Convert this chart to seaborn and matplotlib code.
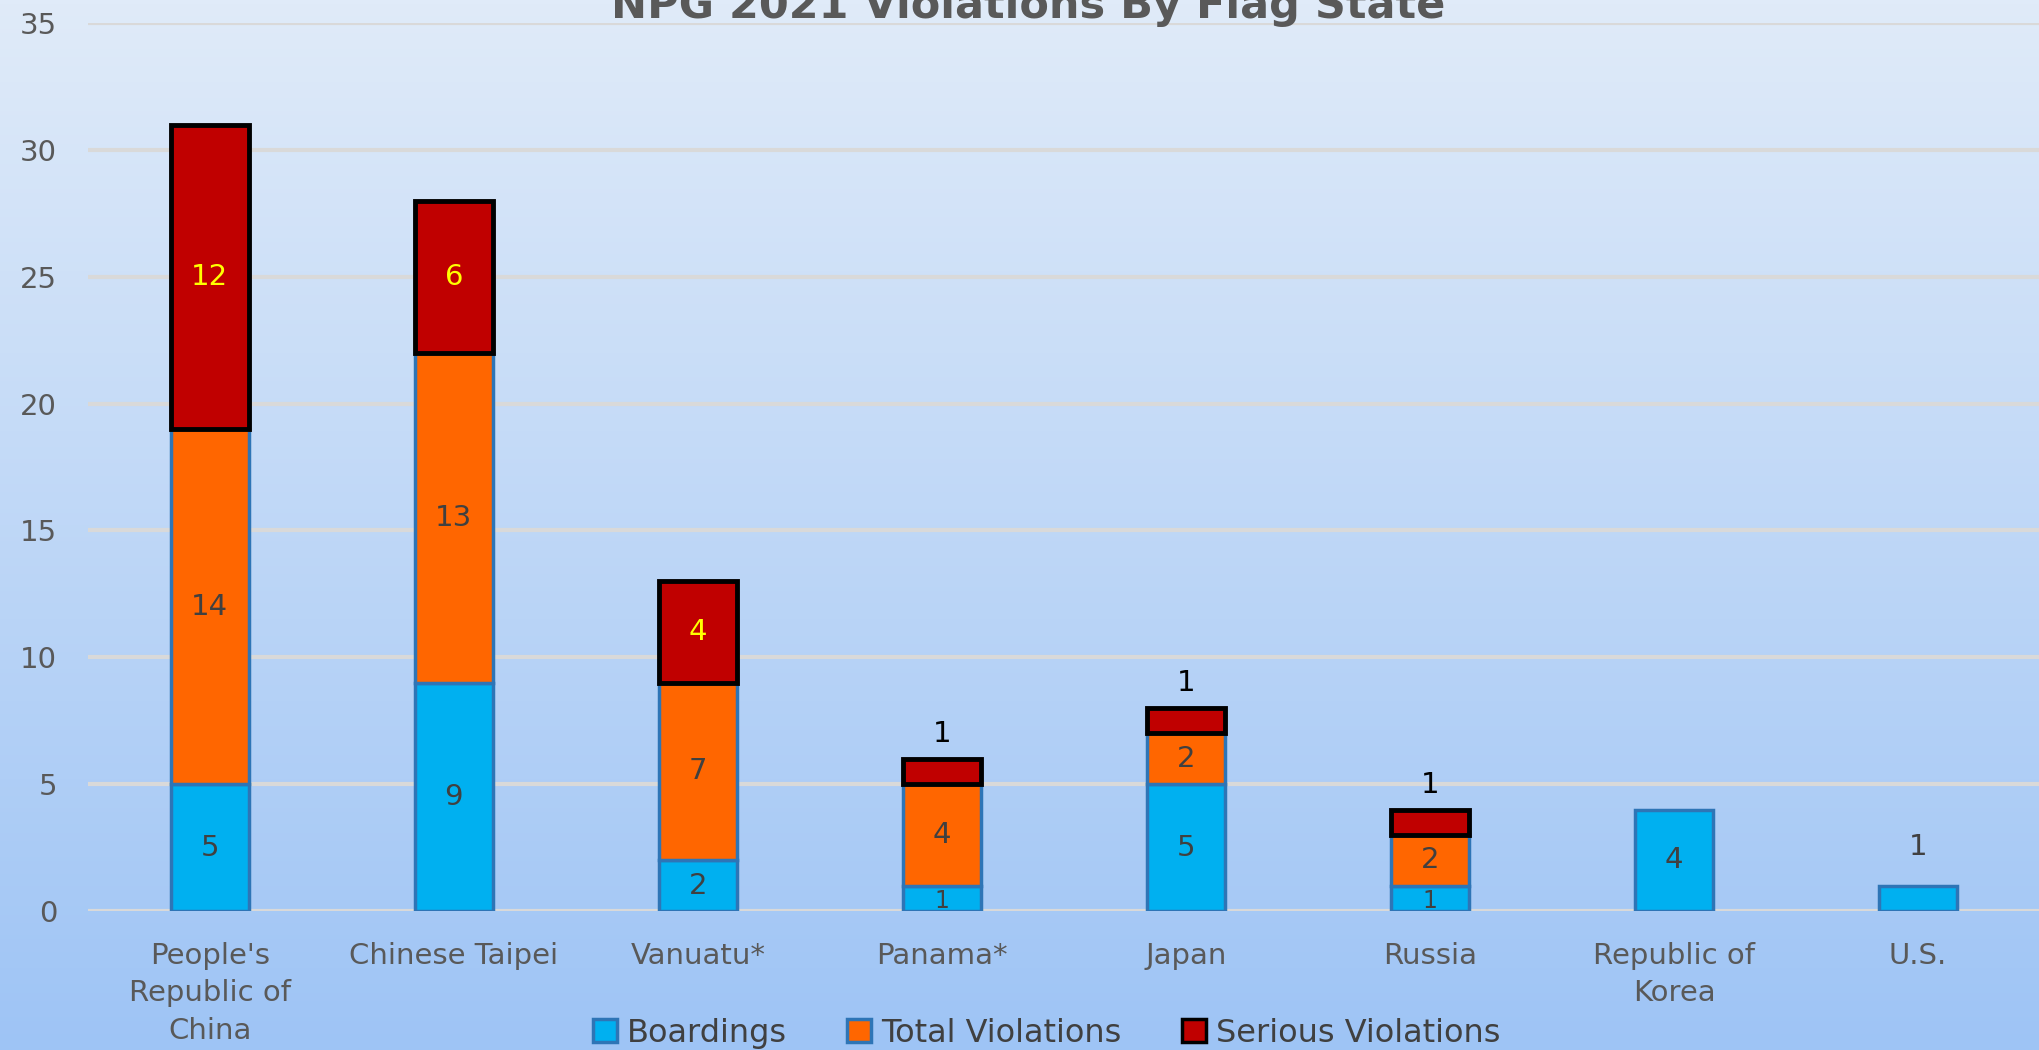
import numpy as np
import matplotlib
matplotlib.use("Agg")
import matplotlib.pyplot as plt
import seaborn as sns
from matplotlib.patches import Patch
from matplotlib.colors import LinearSegmentedColormap

# chart data
states = ["People's\nRepublic of\nChina", "Chinese Taipei", "Vanuatu*", "Panama*",
          "Japan", "Russia", "Republic of\nKorea", "U.S."]
boardings = [5, 9, 2, 1, 5, 1, 4, 1]
total_violations = [14, 13, 7, 4, 2, 2, 0, 0]
serious_violations = [12, 6, 4, 1, 1, 1, 0, 0]
yticks = [0, 5, 10, 15, 20, 25, 30, 35]

c_board = "#00b0f0"
c_total = "#ff6600"
c_serious = "#c00000"
c_edge = "#2e75b6"

sns.set_theme(style="white")
plt.rcParams['font.family'] = ['DejaVu Sans']

fig = plt.figure(figsize=(20.4, 10.5), dpi=100)

# background gradient over whole figure
bg = fig.add_axes([0, 0, 1, 1], zorder=-10)
grad = np.linspace(0, 1, 256).reshape(-1, 1)
cmap = LinearSegmentedColormap.from_list("bg", ["#e0ebf9", "#9ec4f5"])
bg.imshow(grad, aspect="auto", cmap=cmap, extent=[0, 1, 0, 1], origin="upper")
bg.axis("off")

ax = fig.add_axes([0.043, 0.1324, 0.957, 0.8456])
ax.patch.set_alpha(0)

b1 = np.array(boardings)
b2 = b1 + np.array(total_violations)

layers = [
    (boardings, 0, c_board, c_edge, 2.5),
    (total_violations, b1, c_total, c_edge, 2.5),
    (serious_violations, b2, c_serious, "black", 3.5),
]
for vals, bottom, col, ec, lw in layers:
    n_before = len(ax.patches)
    sns.barplot(x=list(range(len(states))), y=vals, bottom=bottom, color=col,
                width=0.32, edgecolor=ec, linewidth=lw, saturation=1,
                ax=ax, zorder=3)
    for p in ax.patches[n_before:]:
        if p.get_height() == 0:
            p.set_visible(False)

# value labels
lab_kw = dict(ha="center", va="center", fontsize=21, zorder=5)
for i in range(len(states)):
    only_board = total_violations[i] == 0 and serious_violations[i] == 0
    if boardings[i] > 0:
        if only_board and boardings[i] < 2:
            ax.annotate(str(boardings[i]), (i, boardings[i]), xytext=(0, 28),
                        textcoords="offset points", color="#404040", **lab_kw)
        else:
            fs = 21 if boardings[i] >= 2 else 17
            ax.text(i, boardings[i] / 2 - (0.12 if boardings[i] < 2 else 0),
                    str(boardings[i]), color="#404040",
                    **{**lab_kw, "fontsize": fs})
    if total_violations[i] > 0:
        ax.text(i, b1[i] + total_violations[i] / 2, str(total_violations[i]),
                color="#404040", **lab_kw)
    if serious_violations[i] > 0:
        if serious_violations[i] >= 4:
            ax.text(i, b2[i] + serious_violations[i] / 2, str(serious_violations[i]),
                    color="#ffff00", **lab_kw)
        else:
            ax.annotate(str(serious_violations[i]), (i, b2[i] + serious_violations[i]),
                        xytext=(0, 18), textcoords="offset points", color="black", **lab_kw)

ax.set_ylim(0, 35)
ax.set_xlim(-0.5, len(states) - 0.5)
ax.set_yticks(yticks)
ax.yaxis.grid(True, color="#d9d9d9", linewidth=3, zorder=0)
ax.set_axisbelow(True)
ax.set_xticks(range(len(states)))
ax.set_xticklabels(states, fontsize=21, color="#595959", linespacing=1.45)
ax.tick_params(axis="y", labelsize=21, labelcolor="#595959", length=0, pad=22)
ax.tick_params(axis="x", length=0, pad=22)
for s in ax.spines.values():
    s.set_visible(False)
ax.set_xlabel("")
ax.set_ylabel("")

fig.text(0.504, 0.994, "NPG 2021 Violations By Flag State", ha="center", va="center",
         fontsize=31, fontweight="bold", color="#595959")

handles = [Patch(facecolor=c_board, edgecolor=c_edge, linewidth=2.5, label="Boardings"),
           Patch(facecolor=c_total, edgecolor=c_edge, linewidth=2.5, label="Total Violations"),
           Patch(facecolor=c_serious, edgecolor="black", linewidth=2.5, label="Serious Violations")]
fig.legend(handles=handles, loc="center", bbox_to_anchor=(0.513, 0.016), ncol=3,
           frameon=False, fontsize=23, handlelength=0.75, handleheight=0.75,
           handletextpad=0.3, columnspacing=1.9, labelcolor="#404040")

fig.savefig("out.png", dpi=100)
